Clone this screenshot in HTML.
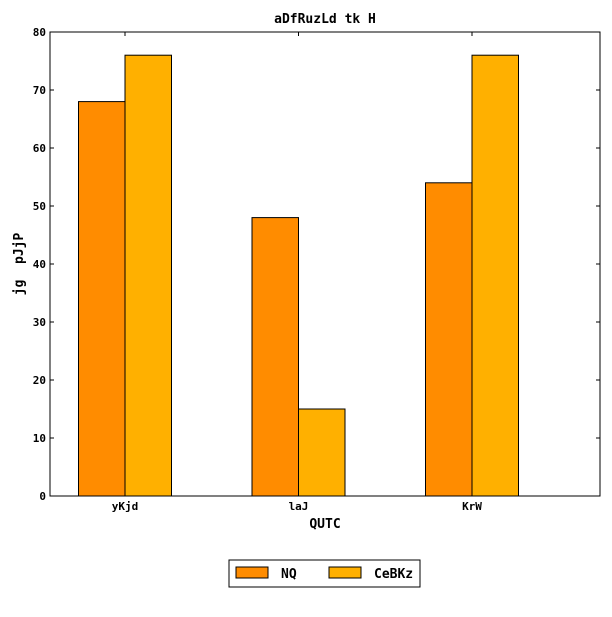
<!DOCTYPE html>
<html><head><meta charset="utf-8"><style>
body{margin:0;background:#fff;}
svg text{font-family:"DejaVu Sans Mono","Liberation Mono",monospace;font-weight:bold;white-space:pre;}
</style></head><body>
<svg width="612" height="612" id="c">
<rect width="612" height="612" fill="#fff"/>
</svg>
<script>
const categories=["yKjd","laJ","KrW"];
const seriesNames=["NQ","CeBKz"];
const seriesNQ=[68,48,54];
const seriesCeBKz=[76,15,76];
const yTicks=[0,10,20,30,40,50,60,70,80];
const colors=["#ff8c00","#ffb000"];
const svg=document.getElementById('c');
const NS="http://www.w3.org/2000/svg";
const L=50,R=600,T=32,B=496;
const y=v=>B-(v/80)*(B-T);
const xc=i=>125+i*173.5;
const bw=46.5;
function mk(t,a,txt){const e=document.createElementNS(NS,t);for(const k in a)e.setAttribute(k,a[k]);if(txt!==undefined)e.textContent=txt;svg.appendChild(e);return e;}
[seriesNQ,seriesCeBKz].forEach((s,si)=>{s.forEach((v,i)=>{
const r=mk('rect',{x:xc(i)-bw+si*bw,y:y(v),width:bw,height:B-y(v),fill:colors[si],stroke:'#000','stroke-width':1});


});});
const fr=mk('rect',{x:L,y:T,width:R-L,height:B-T,fill:'none',stroke:'#000','stroke-width':1});


yTicks.forEach(t=>{
mk('line',{x1:L,x2:L+4,y1:y(t),y2:y(t),stroke:'#000'});
mk('line',{x1:R,x2:R-4,y1:y(t),y2:y(t),stroke:'#000'});
const tx=mk('text',{x:L-4,y:y(t)+4,'text-anchor':'end','font-size':11},t);


});
categories.forEach((c,i)=>{
mk('line',{x1:xc(i),x2:xc(i),y1:B,y2:B-4,stroke:'#000'});
mk('line',{x1:xc(i),x2:xc(i),y1:T,y2:T+4,stroke:'#000'});
const tx=mk('text',{x:xc(i),y:B+14,'text-anchor':'middle','font-size':11},c);


});
let e=mk('text',{x:325,y:23,'text-anchor':'middle','font-size':13},'aDfRuzLd tk H');


e=mk('text',{x:325,y:528,'text-anchor':'middle','font-size':13},'QUTC');


e=mk('text',{x:23,y:264,'text-anchor':'middle','font-size':13,transform:'rotate(-90 23 264)'},'jg  pJjP');


e=mk('rect',{x:229,y:560,width:191,height:27,fill:'#fff',stroke:'#000'});


[[236,281],[329,374]].forEach((p,i)=>{
const r=mk('rect',{x:p[0],y:567,width:32,height:11,fill:colors[i],stroke:'#000'});


const t=mk('text',{x:p[1],y:578,'font-size':13},seriesNames[i]);


});
</script>
</body></html>
